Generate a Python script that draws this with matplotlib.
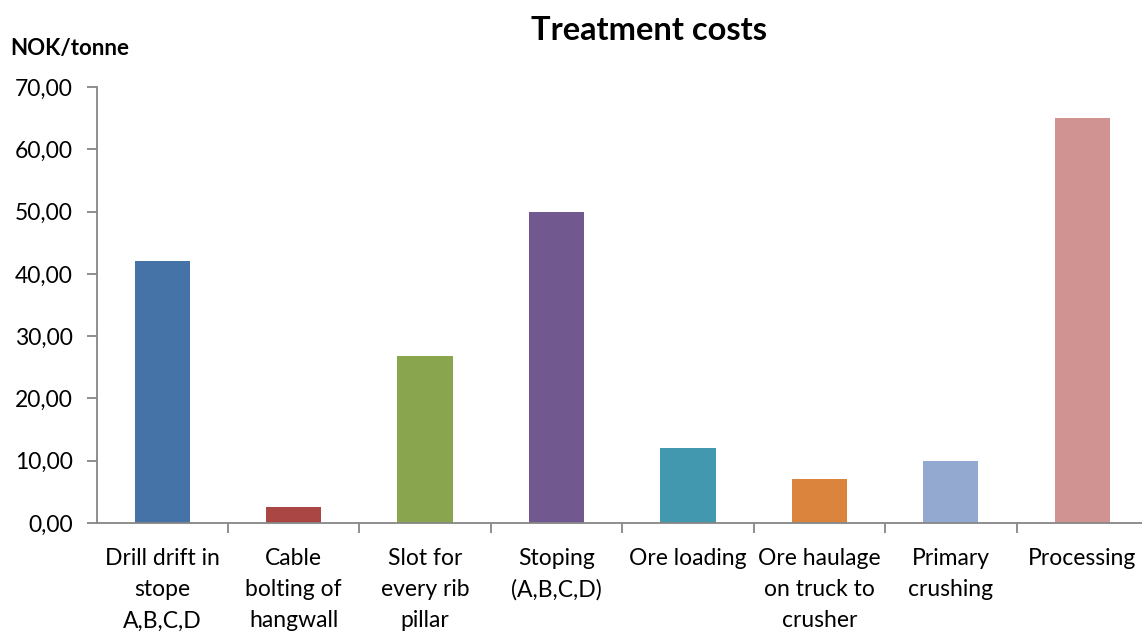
import matplotlib
matplotlib.use("Agg")
import matplotlib.pyplot as plt
from matplotlib.ticker import FixedLocator, NullFormatter

plt.rcParams['font.family'] = ['Lato', 'DejaVu Sans']

categories = [
    "Drill drift in\nstope\nA,B,C,D",
    "Cable\nbolting of\nhangwall",
    "Slot for\nevery rib\npillar",
    "Stoping\n(A,B,C,D)",
    "Ore loading",
    "Ore haulage\non truck to\ncrusher",
    "Primary\ncrushing",
    "Processing",
]
costs = [42.0, 2.6, 26.8, 50.0, 12.0, 7.0, 9.9, 65.0]
colors = ["#4572A7", "#AA4643", "#89A54E", "#71588F",
          "#4198AF", "#DB843D", "#93A9CF", "#D19392"]
yticks = [0, 10, 20, 30, 40, 50, 60, 70]
ytick_labels = ["0,00", "10,00", "20,00", "30,00", "40,00", "50,00", "60,00", "70,00"]

fig = plt.figure(figsize=(11.42, 6.33), dpi=100)
ax = fig.add_axes([96.5 / 1142, 110 / 633, (1148 - 96.5) / 1142, 436 / 633])

# bars hang a hair below the baseline
overhang = 0.5
x = list(range(len(costs)))
ax.bar(x, [c + overhang for c in costs], bottom=-overhang, width=0.42,
       color=colors, zorder=1)

ax.set_xlim(-0.5, len(costs) - 0.5)
ax.set_ylim(0, 70)

axis_grey = "#868686"
for side in ("top", "right"):
    ax.spines[side].set_visible(False)
for side in ("left", "bottom"):
    ax.spines[side].set_color(axis_grey)
    ax.spines[side].set_linewidth(1.3)

ax.set_yticks(yticks)
ax.set_yticklabels(ytick_labels)
ax.tick_params(axis="y", direction="out", length=7, width=1.3, color=axis_grey,
               labelsize=16.5, pad=10, labelcolor="black")

# category labels at centres, tick marks at category boundaries
ax.set_xticks(x)
ax.set_xticklabels(categories, linespacing=1.6)
ax.tick_params(axis="x", which="major", length=0, labelsize=16.5, pad=18,
               labelcolor="black")
ax.xaxis.set_minor_locator(FixedLocator([i + 0.5 for i in range(len(costs) - 1)]))
ax.xaxis.set_minor_formatter(NullFormatter())
ax.tick_params(axis="x", which="minor", direction="out", length=7, width=1.3,
               color=axis_grey)

fig.text(649 / 1142, 1 - 30 / 633, "Treatment costs", ha="center", va="center",
         fontsize=23.5, fontweight="bold")
fig.text(10 / 1142, 1 - 48 / 633, "NOK/tonne", ha="left", va="center",
         fontsize=16, fontweight="bold")

fig.savefig("out.png", dpi=100, facecolor="white")
